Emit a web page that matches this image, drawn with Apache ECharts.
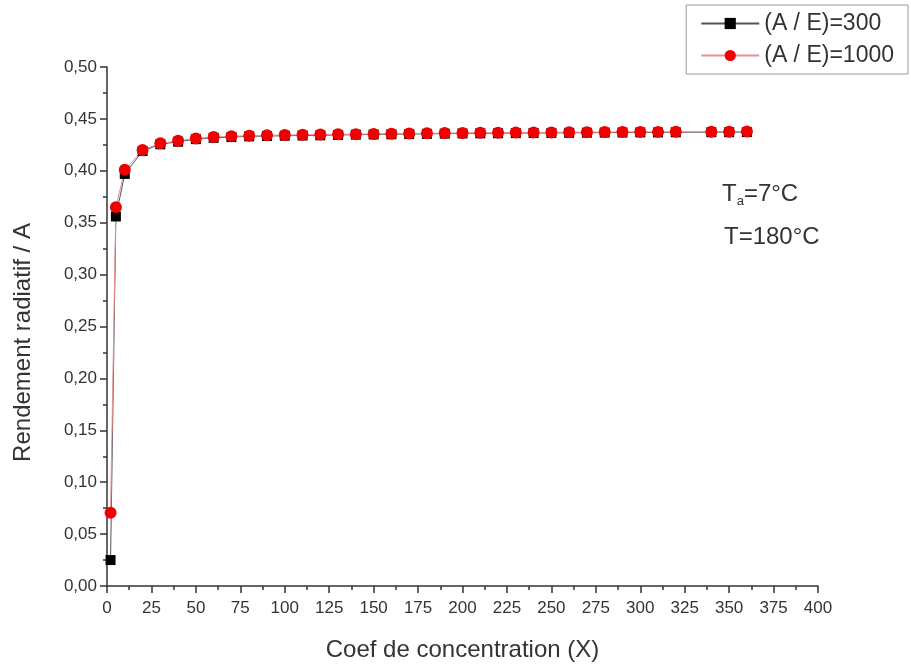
<!DOCTYPE html>
<html>
<head>
<meta charset="utf-8">
<script src="https://cdn.jsdelivr.net/npm/echarts@6/dist/echarts.min.js"></script>
<style>html,body{margin:0;padding:0;background:#fff}#c{width:911px;height:668px}</style>
</head>
<body>
<div id="c"></div>
<script>
const xValues = [2,5,10,20,30,40,50,60,70,80,90,100,110,120,130,140,150,160,170,180,190,200,210,220,230,240,250,260,270,280,290,300,310,320,340,350,360];
const ratio300 = [0.025,0.356,0.397,0.419,0.4255,0.428,0.4305,0.4318,0.4325,0.4332,0.4335,0.4338,0.434,0.4342,0.4345,0.4348,0.435,0.4352,0.4354,0.4356,0.4358,0.436,0.4361,0.4362,0.4363,0.4364,0.4365,0.4366,0.4367,0.4368,0.4369,0.437,0.437,0.4371,0.4372,0.4372,0.4373];
const ratio1000 = [0.0705,0.365,0.401,0.420,0.4265,0.429,0.4312,0.4325,0.4333,0.4338,0.4342,0.4345,0.4347,0.4349,0.4351,0.4353,0.4355,0.4357,0.4359,0.4361,0.4363,0.4365,0.4366,0.4367,0.4368,0.4369,0.437,0.4371,0.4372,0.4373,0.4374,0.4375,0.4375,0.4376,0.4377,0.4377,0.4378];
const seriesNames = ['(A / E)=300', '(A / E)=1000'];
const xTitle = 'Coef de concentration (X)';
const yTitle = 'Rendement radiatif / A';

const chart = echarts.init(document.getElementById('c'));
const font = 'Liberation Sans, Arial, sans-serif';
const txt = '#333';
chart.setOption({
  animation: false,
  backgroundColor: '#fff',
  grid: {left: 107, right: 93, top: 67, bottom: 82},
  legend: {
    orient: 'vertical', right: 3, top: 5,
    borderColor: '#999', borderWidth: 1, padding: [7, 14, 7, 14],
    itemWidth: 58, itemHeight: 14, itemGap: 9,
    textStyle: {fontFamily: font, fontSize: 23, color: txt},
    data: seriesNames
  },
  xAxis: {
    type: 'value', min: 0, max: 400, interval: 25,
    name: xTitle, nameLocation: 'middle', nameGap: 52,
    nameTextStyle: {fontFamily: font, fontSize: 24, color: txt},
    axisLine: {lineStyle: {color: '#333', width: 1.5}},
    axisTick: {show: true, length: 7, lineStyle: {color: '#333', width: 1.5}},
    minorTick: {show: true, splitNumber: 2, length: 4, lineStyle: {color: '#333', width: 1.5}},
    axisLabel: {fontFamily: font, fontSize: 17, color: txt, margin: 14},
    splitLine: {show: false}
  },
  yAxis: {
    type: 'value', min: 0, max: 0.5, interval: 0.05,
    name: yTitle, nameLocation: 'middle', nameGap: 72, nameRotate: 90,
    nameTextStyle: {fontFamily: font, fontSize: 24, color: txt, padding: [0, 32, 0, 0]},
    axisLine: {show: true, lineStyle: {color: '#333', width: 1.5}},
    axisTick: {show: true, length: 7, lineStyle: {color: '#333', width: 1.5}},
    minorTick: {show: true, splitNumber: 2, length: 4, lineStyle: {color: '#333', width: 1.5}},
    axisLabel: {fontFamily: font, fontSize: 17, color: txt, margin: 10,
      formatter: v => v.toFixed(2).replace('.', ',')},
    splitLine: {show: false}
  },
  series: [
    {
      name: seriesNames[0], type: 'line',
      data: xValues.map((x, i) => [x, ratio300[i]]),
      symbol: 'rect', symbolSize: 10,
      itemStyle: {color: '#000'},
      lineStyle: {color: '#555', width: 1}
    },
    {
      name: seriesNames[1], type: 'line',
      data: xValues.map((x, i) => [x, ratio1000[i]]),
      symbol: 'circle', symbolSize: 12,
      itemStyle: {color: '#f00000'},
      lineStyle: {color: '#e89090', width: 1}
    }
  ],
  graphic: [
    {type: 'text', left: 722, top: 182, style: {
      text: '{m|T}{s|a}{m|=7°C}',
      rich: {m: {fontFamily: font, fontSize: 24, fill: txt}, s: {fontFamily: font, fontSize: 13, fill: txt, verticalAlign: 'bottom', padding: [14, 0, 0, 0]}}
    }},
    {type: 'text', left: 724, top: 225, style: {text: 'T=180°C', font: '24px ' + font, fill: txt}}
  ]
});
</script>
</body>
</html>
